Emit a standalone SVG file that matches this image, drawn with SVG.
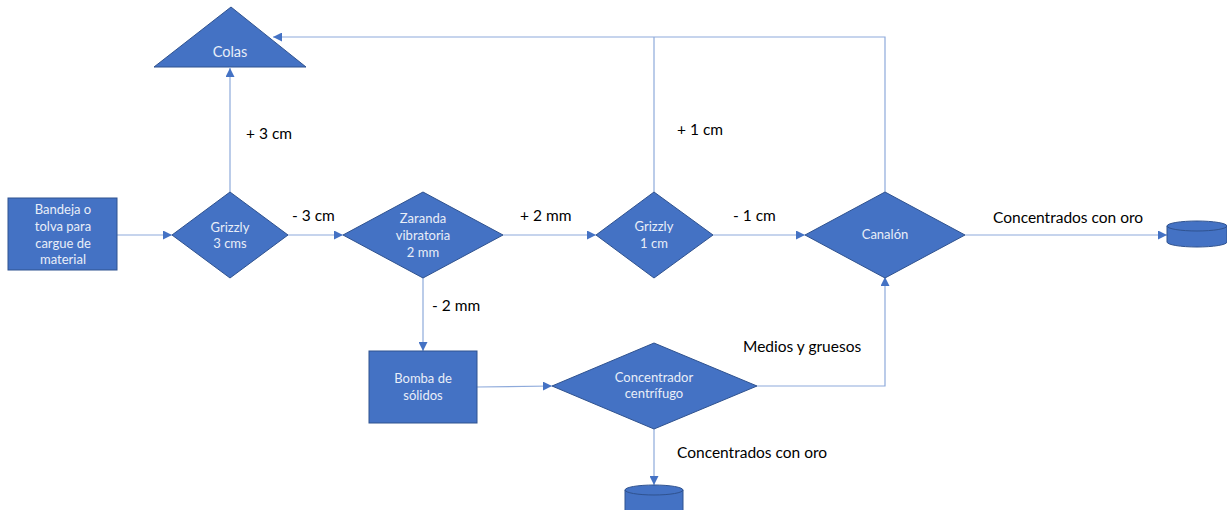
<svg xmlns="http://www.w3.org/2000/svg" width="1227" height="510" viewBox="0 0 1227 510">
<style>
.n{fill:#4472C4;stroke:#2F528F;stroke-width:1}
.t{font-family:Lato,"Liberation Sans",sans-serif;font-size:13px;fill:#E9EEF8;text-anchor:middle}
.l{font-family:Lato,"Liberation Sans",sans-serif;font-size:15.5px;fill:#000}
.c{fill:none;stroke:#8EAADB;stroke-width:1.2}
</style>
<defs>
<marker id="a" viewBox="0 0 10 10" refX="10" refY="5" markerWidth="9" markerHeight="9" markerUnits="userSpaceOnUse" orient="auto">
<path d="M0,0 L10,5 L0,10 z" fill="#4472C4"/>
</marker>
</defs>
<rect width="1227" height="510" fill="#fff"/>
<g id="connectors">
<line class="c" x1="117" y1="235" x2="172" y2="235" marker-end="url(#a)"/>
<line class="c" x1="230" y1="192" x2="230" y2="68" marker-end="url(#a)"/>
<line class="c" x1="288" y1="235" x2="343" y2="235" marker-end="url(#a)"/>
<line class="c" x1="503" y1="235" x2="596" y2="235" marker-end="url(#a)"/>
<line class="c" x1="713" y1="235" x2="805" y2="235" marker-end="url(#a)"/>
<line class="c" x1="965" y1="235" x2="1167" y2="235" marker-end="url(#a)"/>
<polyline class="c" points="885,192 885,37 273,37" marker-end="url(#a)"/>
<line class="c" x1="654" y1="192" x2="654" y2="37"/>
<line class="c" x1="423" y1="277" x2="423" y2="351" marker-end="url(#a)"/>
<line class="c" x1="477" y1="387" x2="552" y2="386" marker-end="url(#a)"/>
<polyline class="c" points="757,386 885,386 885,277" marker-end="url(#a)"/>
<line class="c" x1="654" y1="428" x2="654" y2="485" marker-end="url(#a)"/>
<text class="l" x="246" y="139">+ 3 cm</text>
<text class="l" x="292" y="221">- 3 cm</text>
<text class="l" x="520" y="221">+ 2 mm</text>
<text class="l" x="733" y="221">- 1 cm</text>
<text class="l" x="677" y="135">+ 1 cm</text>
<text class="l" x="993" y="223">Concentrados con oro</text>
<text class="l" x="432" y="311">- 2 mm</text>
<text class="l" x="743" y="352">Medios y gruesos</text>
<text class="l" x="677" y="458">Concentrados con oro</text>
</g>
<g id="colas">
<polygon class="n" points="231,7 306,67 154,67"/>
<text class="t" x="230" y="57" style="font-size:14.5px">Colas</text>
</g>
<g id="bandeja">
<rect class="n" x="8" y="198" width="109" height="72"/>
<text class="t" x="63" y="214">Bandeja o</text>
<text class="t" x="63" y="231">tolva para</text>
<text class="t" x="63" y="248">cargue de</text>
<text class="t" x="63" y="264">material</text>
</g>
<g id="grizzly3">
<polygon class="n" points="230,192 288,235 230,278 172,235"/>
<text class="t" x="230" y="232">Grizzly</text>
<text class="t" x="230" y="248">3 cms</text>
</g>
<g id="zaranda">
<polygon class="n" points="423,192 503,235 423,278 343,235"/>
<text class="t" x="423" y="223">Zaranda</text>
<text class="t" x="423" y="240">vibratoria</text>
<text class="t" x="423" y="257">2 mm</text>
</g>
<g id="grizzly1">
<polygon class="n" points="654,192 713,235 654,278 596,235"/>
<text class="t" x="654" y="231">Grizzly</text>
<text class="t" x="654" y="248">1 cm</text>
</g>
<g id="canalon">
<polygon class="n" points="885,192 965,235 885,278 805,235"/>
<text class="t" x="885" y="239">Canalón</text>
</g>
<g id="cyl1">
<path class="n" d="M1167,226 A30,5 0 0 1 1227,226 L1227,242 A30,5 0 0 1 1167,242 Z"/>
<path d="M1167,226 A30,5 0 0 0 1227,226" fill="none" stroke="#2F528F"/>
</g>
<g id="bomba">
<rect class="n" x="369" y="351" width="108" height="72"/>
<text class="t" x="423" y="383">Bomba de</text>
<text class="t" x="423" y="400">sólidos</text>
</g>
<g id="concentrador">
<polygon class="n" points="654,343 757,386 654,429 552,386"/>
<text class="t" x="654" y="382">Concentrador</text>
<text class="t" x="654" y="398">centrífugo</text>
</g>
<g id="cyl2">
<path class="n" d="M625,490 A29,5 0 0 1 683,490 L683,512 L625,512 Z"/>
<path d="M625,490 A29,5 0 0 0 683,490" fill="none" stroke="#2F528F"/>
</g>
</svg>
